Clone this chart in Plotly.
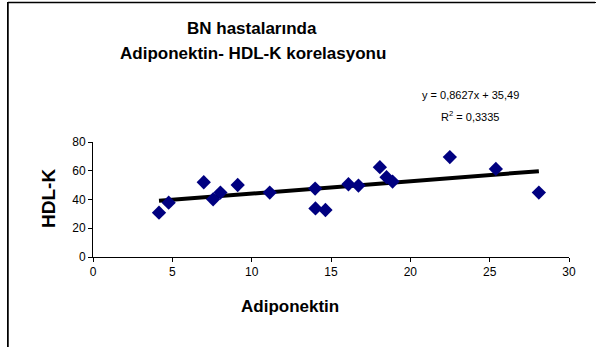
import plotly.graph_objects as go

adiponektin = [4.16, 4.77, 6.98, 7.57, 8.03, 9.12, 11.14, 14.0, 14.02, 14.65,
               16.1, 16.73, 18.08, 18.5, 18.88, 22.49, 25.39, 28.1]
hdl_k = [30.8, 37.8, 52.0, 40.1, 44.8, 50.1, 44.8, 47.6, 33.8, 32.7,
         50.6, 49.7, 62.5, 55.5, 52.5, 69.5, 61.3, 44.8]
slope = 0.8627
intercept = 35.49
r2_text = "0,3335"
x_ticks = [0, 5, 10, 15, 20, 25, 30]
y_ticks = [0, 20, 40, 60, 80]

W, H = 596, 347
L, R, T, B = 93, 569, 142, 257

xmin, xmax = min(adiponektin), max(adiponektin)
trend_x = [xmin, xmax]
trend_y = [slope * v + intercept for v in trend_x]

fig = go.Figure()
fig.add_trace(go.Scatter(x=trend_x, y=trend_y, mode="lines",
                         line=dict(color="black", width=4), hoverinfo="skip"))
fig.add_trace(go.Scatter(x=adiponektin, y=hdl_k, mode="markers",
                         marker=dict(symbol="diamond", size=11, color="#000080",
                                     line=dict(width=0))))

def px(x):
    return (x - L) / (R - L)

def py(y):
    return (B - y) / (B - T)

def label(text, x, y, size, angle=0):
    return dict(text=text, xref="paper", yref="paper", x=px(x), y=py(y),
                xanchor="center", yanchor="middle", textangle=angle,
                showarrow=False, font=dict(size=size))

font = "Liberation Sans, Arial, sans-serif"
fig.update_layout(
    width=W, height=H,
    margin=dict(l=L, r=W - R, t=T, b=H - B),
    paper_bgcolor="white", plot_bgcolor="white",
    showlegend=False,
    font=dict(family=font, color="black", size=12),
    xaxis=dict(range=[0, 30], tickvals=x_ticks, showgrid=False, zeroline=False,
               showline=True, linecolor="black", linewidth=1,
               ticks="outside", ticklen=4, tickcolor="black",
               tickfont=dict(size=12), fixedrange=True),
    yaxis=dict(range=[0, 80], tickvals=y_ticks, showgrid=False, zeroline=False,
               showline=True, linecolor="black", linewidth=1,
               ticks="outside", ticklen=4, tickcolor="black",
               tickfont=dict(size=12), fixedrange=True),
    shapes=[
        dict(type="line", xref="paper", yref="paper", layer="above",
             x0=px(8), x1=px(W - 1), y0=py(2.5), y1=py(2.5),
             line=dict(color="black", width=1.5)),
        dict(type="line", xref="paper", yref="paper", layer="above",
             x0=px(8), x1=px(8), y0=py(2.5), y1=py(H + 10),
             line=dict(color="black", width=1.5)),
    ],
    annotations=[
        label("<b>BN hastalarında</b>", 252, 28, 17),
        label("<b>Adiponektin- HDL-K korelasyonu</b>", 253, 53, 17),
        label(f"y = {str(slope).replace('.', ',')}x + {str(intercept).replace('.', ',')}",
              470, 95, 11),
        label(f"R<sup>2</sup> = {r2_text}", 470, 116, 11),
        label("<b>HDL-K</b>", 48, 199, 19, -90),
        label("<b>Adiponektin</b>", 290, 306, 17),
    ],
)
border_js = (
    "document.body.style.margin='0';document.body.style.overflow='hidden';"
    "var b=document.createElement('div');"
    "b.style.cssText='position:absolute;left:7px;top:2px;width:700px;height:500px;"
    "border-top:1px solid black;border-left:1px solid black;pointer-events:none;';"
    "document.body.appendChild(b);"
)
fig.write_html("out.html", config={"displayModeBar": False}, post_script=border_js)
